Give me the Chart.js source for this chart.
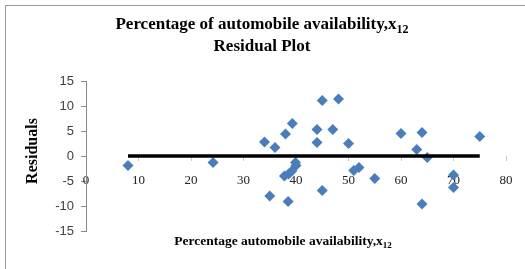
<!DOCTYPE html>
<html>
<head>
<meta charset="utf-8">
<script src="https://cdn.jsdelivr.net/npm/chart.js@4"></script>
<style>
  html, body { margin: 0; padding: 0; background: #fff; overflow: hidden; }
  #frame { position: absolute; left: 5px; top: 5px; width: 600px; height: 400px; border: 1px solid #9a9a9a; }
  #wrap { position: absolute; left: 0; top: 0; width: 525px; height: 269px; }
</style>
</head>
<body>
<div id="frame"></div>
<div id="wrap"><canvas id="residualChart"></canvas></div>
<script>
const titleLine1 = "Percentage of automobile availability,x";
const titleLine2 = "Residual Plot";
const xTitle = "Percentage automobile availability,x";
const subscript = "12";
const yTitle = "Residuals";

const xValues = [8, 24.2, 34, 35, 36, 38, 39.3, 38.5, 37.8, 38.6, 39.2, 39.9, 40,
  45, 48.1, 44, 47, 44, 50, 45, 51, 52, 55, 60, 64, 63, 65, 64, 70, 70, 75];
const residuals = [-1.9, -1.3, 2.8, -8, 1.7, 4.4, 6.5, -9.1, -4.0, -3.6, -3.0, -1.3, -1.9,
  11.1, 11.4, 5.3, 5.3, 2.7, 2.5, -6.9, -2.9, -2.3, -4.5, 4.5, 4.7, 1.3, -0.3, -9.6, -3.8, -6.3, 3.9];
const zeroLineX = [8, 75];
const xTicks = [0, 10, 20, 30, 40, 50, 60, 70, 80];
const yTicks = [-15, -10, -5, 0, 5, 10, 15];

const serif = "'Liberation Serif', 'Times New Roman', serif";
const sans = "'Liberation Sans', Arial, sans-serif";

function drawWithSub(ctx, text, sub, cx, cy, size) {
  ctx.font = `bold ${size}px ${serif}`;
  const w1 = ctx.measureText(text).width;
  const subSize = Math.round(size * 0.68);
  ctx.font = `bold ${subSize}px ${serif}`;
  const w2 = sub ? ctx.measureText(sub).width : 0;
  let x = cx - (w1 + w2) / 2;
  ctx.textAlign = "left";
  ctx.textBaseline = "middle";
  ctx.fillStyle = "#000";
  ctx.font = `bold ${size}px ${serif}`;
  ctx.fillText(text, x, cy);
  if (sub) {
    ctx.font = `bold ${subSize}px ${serif}`;
    ctx.fillText(sub, x + w1, cy + size * 0.3);
  }
}

// titles drawn by hand so the x12 subscript can be kept
const textPlugin = {
  id: "textPlugin",
  afterDraw(chart) {
    const ctx = chart.ctx;
    ctx.save();
    drawWithSub(ctx, titleLine1, subscript, 262, 25, 17);
    drawWithSub(ctx, titleLine2, "", 262, 47, 17);
    drawWithSub(ctx, xTitle, subscript, 283, 242, 13.5);
    ctx.translate(33, 151);
    ctx.rotate(-Math.PI / 2);
    drawWithSub(ctx, yTitle, "", 0, 0, 16);
    ctx.restore();
  }
};

new Chart(document.getElementById("residualChart"), {
  type: "scatter",
  data: {
    datasets: [
      {
        label: "Residuals",
        data: xValues.map((x, i) => ({ x, y: residuals[i] })),
        pointStyle: "rectRot",
        pointRadius: 5.5,
        backgroundColor: "#4a7ebb",
        borderColor: "#4a7ebb",
        borderWidth: 0,
        order: 2,
      },
      {
        label: "zero",
        type: "line",
        data: zeroLineX.map((x) => ({ x, y: 0 })),
        borderColor: "#000",
        borderWidth: 3.5,
        pointRadius: 0,
        order: 1,
      },
    ],
  },
  plugins: [textPlugin],
  options: {
    responsive: true,
    maintainAspectRatio: false,
    animation: false,
    layout: { padding: { left: 18, right: 19, top: 81, bottom: 38 } },
    plugins: { legend: { display: false }, tooltip: { enabled: false }, title: { display: false } },
    scales: {
      x: {
        type: "linear",
        position: { y: 0 },
        min: 0,
        max: 80,
        afterBuildTicks: (axis) => { axis.ticks = xTicks.map((v) => ({ value: v })); },
        border: { display: false },
        grid: { drawOnChartArea: false, tickLength: 5, color: "#c8c8c8" },
        ticks: { padding: 12, color: "#222", font: { family: serif, size: 13 } },
      },
      y: {
        type: "linear",
        min: -15,
        max: 15,
        afterBuildTicks: (axis) => { axis.ticks = yTicks.map((v) => ({ value: v })); },
        afterFit: (axis) => { axis.width = 68; },
        border: { display: true, color: "#888" },
        grid: { drawOnChartArea: false, tickLength: 5, color: "#888" },
        ticks: { padding: 7, color: "#404040", font: { family: sans, size: 13 } },
      },
    },
  },
});
</script>
</body>
</html>
